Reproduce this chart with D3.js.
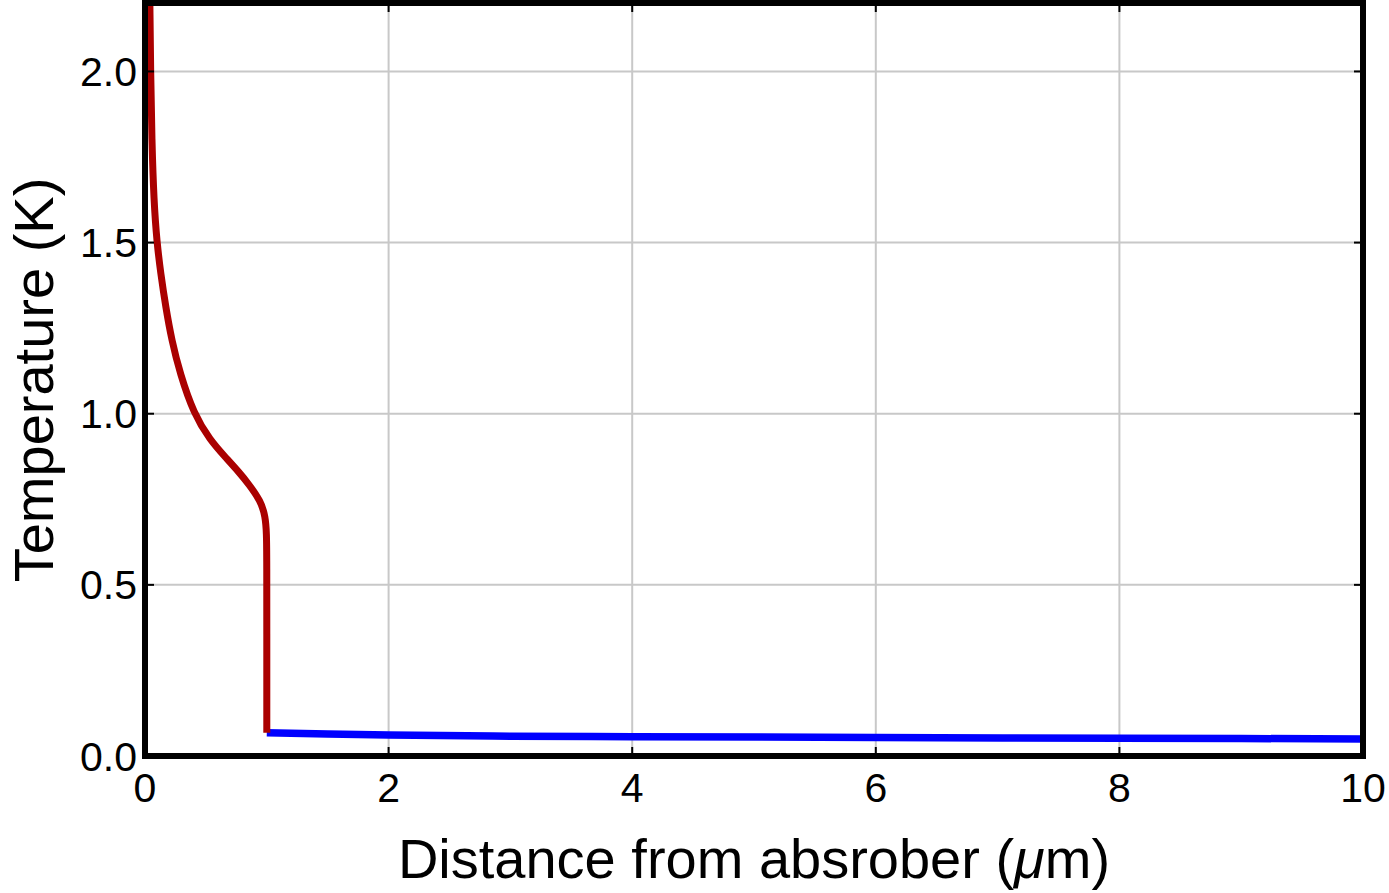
<!DOCTYPE html>
<html><head><meta charset="utf-8">
<script src="https://cdn.jsdelivr.net/npm/d3@7"></script>
<style>body{margin:0;background:#fff}svg{display:block}</style>
</head><body>
<svg id="c" width="1389" height="893"></svg>
<script>
const xTicks = [0, 2, 4, 6, 8, 10];
const yTicks = [0.0, 0.5, 1.0, 1.5, 2.0];
const redX = [0.040, 0.046, 0.056, 0.073, 0.098, 0.129, 0.170, 0.219, 0.287, 0.40, 0.534, 0.66, 0.78, 0.85, 0.95, 0.988, 0.998, 1.0, 1.0, 1.0];
const redT = [2.2, 2.0, 1.8, 1.62, 1.5, 1.41, 1.312, 1.215, 1.118, 1.0, 0.923, 0.873, 0.826, 0.795, 0.745, 0.70, 0.65, 0.58, 0.3, 0.068];
const blueX = [1.0, 1.5, 2, 3, 4, 6, 8, 10];
const blueT = [0.068, 0.064, 0.061, 0.058, 0.0565, 0.054, 0.052, 0.050];

const svg = d3.select("#c");
const L = 145, R = 1363, T = 3, B = 756;
const x = d3.scaleLinear().domain([0, 10]).range([L, R]);
const y = d3.scaleLinear().domain([0, 2.2]).range([B, T]);
const font = "'Liberation Sans', Arial, sans-serif";

// grid
svg.append("g").selectAll("line").data(xTicks.filter(d => d > 0 && d < 10)).join("line")
  .attr("x1", d => x(d)).attr("x2", d => x(d)).attr("y1", T).attr("y2", B)
  .attr("stroke", "#c8c8c8").attr("stroke-width", 2);
svg.append("g").selectAll("line").data(yTicks.filter(d => d > 0)).join("line")
  .attr("y1", d => y(d)).attr("y2", d => y(d)).attr("x1", L).attr("x2", R)
  .attr("stroke", "#c8c8c8").attr("stroke-width", 2);

// curves
svg.append("clipPath").attr("id", "pc").append("rect")
  .attr("x", L).attr("y", T).attr("width", R - L).attr("height", B - T);
const line = d3.line().x(d => x(d[0])).y(d => y(d[1])).curve(d3.curveBasis);
svg.append("path").datum(blueX.map((v, i) => [v, blueT[i]]))
  .attr("d", d3.line().x(d => x(d[0])).y(d => y(d[1])).curve(d3.curveMonotoneX))
  .attr("fill", "none").attr("stroke", "#0000ff").attr("stroke-width", 7.5).attr("clip-path", "url(#pc)");
svg.append("path").datum(redX.map((v, i) => [v, redT[i]]))
  .attr("d", line).attr("fill", "none").attr("stroke", "#aa0000").attr("stroke-width", 7)
  .attr("clip-path", "url(#pc)");

// frame ticks
const tk = svg.append("g").attr("stroke", "#000").attr("stroke-width", 2);
xTicks.forEach(d => {
  tk.append("line").attr("x1", x(d)).attr("x2", x(d)).attr("y1", B).attr("y2", B - 9);
  tk.append("line").attr("x1", x(d)).attr("x2", x(d)).attr("y1", T).attr("y2", T + 9);
});
yTicks.forEach(d => {
  tk.append("line").attr("y1", y(d)).attr("y2", y(d)).attr("x1", L).attr("x2", L + 9);
  tk.append("line").attr("y1", y(d)).attr("y2", y(d)).attr("x1", R).attr("x2", R - 9);
});

// frame
svg.append("rect").attr("x", L).attr("y", T).attr("width", R - L).attr("height", B - T)
  .attr("fill", "none").attr("stroke", "#000").attr("stroke-width", 6);

// tick labels
svg.append("g").selectAll("text").data(xTicks).join("text")
  .attr("x", d => x(d)).attr("y", 802).attr("text-anchor", "middle")
  .attr("font-family", font).attr("font-size", 41).text(d => d);
svg.append("g").selectAll("text").data(yTicks).join("text")
  .attr("x", 137).attr("y", d => y(d) + 14.5).attr("text-anchor", "end")
  .attr("font-family", font).attr("font-size", 41).text(d => d.toFixed(1));

// axis titles
svg.append("text").attr("x", (L + R) / 2).attr("y", 878).attr("text-anchor", "middle")
  .attr("font-family", font).attr("font-size", 56)
  .html("Distance from absrober (<tspan font-style='italic'>μ</tspan>m)");
svg.append("text").attr("transform", "translate(53,380) rotate(-90)").attr("text-anchor", "middle")
  .attr("font-family", font).attr("font-size", 56).text("Temperature (K)");
</script>
</body></html>
